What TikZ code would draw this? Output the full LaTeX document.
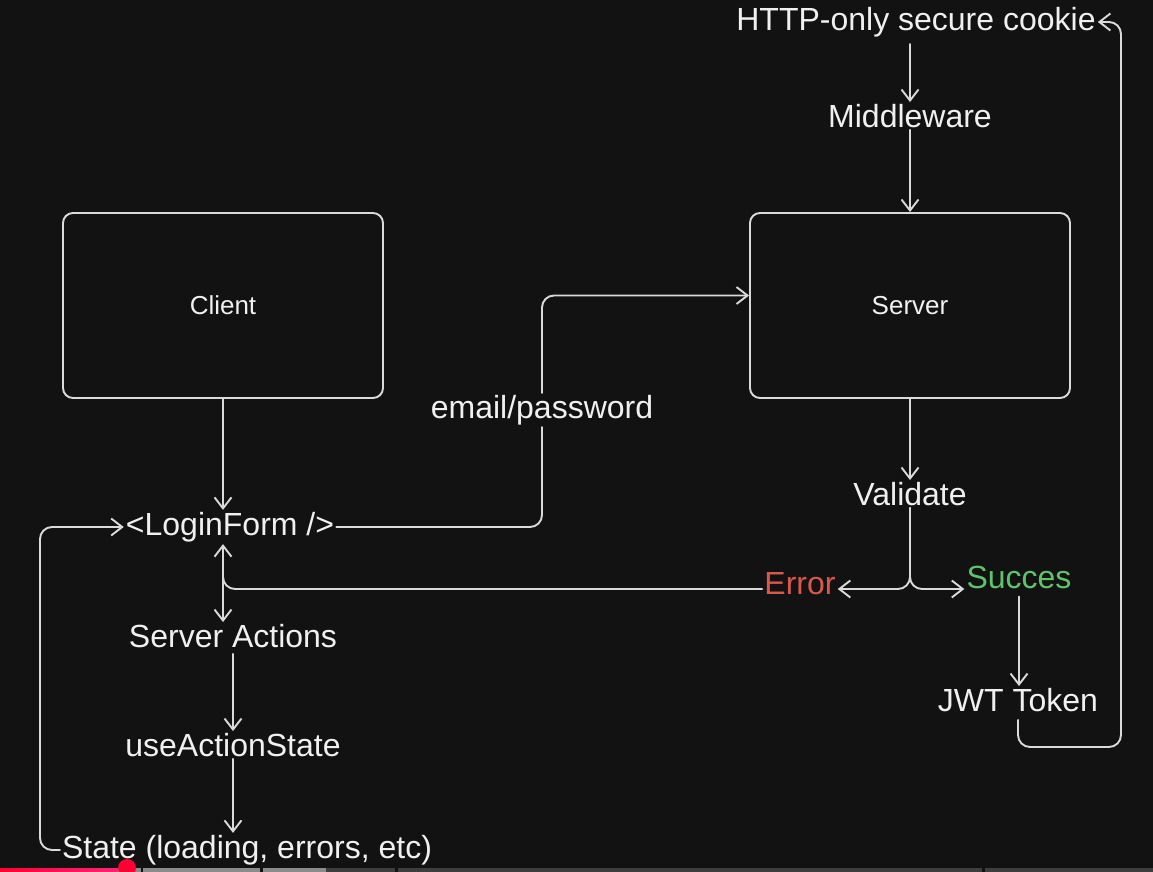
\documentclass[tikz,border=0pt]{standalone}
\usepackage{fontspec}
\setmainfont{Liberation Sans}
\usetikzlibrary{arrows.meta}
\definecolor{bg}{HTML}{121212}
\definecolor{ln}{HTML}{DADADA}
\definecolor{tx}{HTML}{F0F0F0}
\definecolor{err}{HTML}{D9574B}
\definecolor{ok}{HTML}{5DC46A}
\definecolor{barred}{HTML}{FF0033}
\definecolor{barpink}{HTML}{FF2277}
\definecolor{barlight}{HTML}{8C8C8C}
\definecolor{bardark}{HTML}{3E3E3E}
\begin{document}
\begin{tikzpicture}[x=1pt,y=-1pt,
  lbl/.style={text=tx, font=\fontsize{32}{37}\selectfont, inner sep=2pt},
  box/.style={draw=ln, line width=1.9pt, rounded corners=10pt, minimum width=320pt, minimum height=185pt, text=tx, font=\fontsize{26}{30}\selectfont},
  tipb/.tip={Straight Barb[length=11pt,width=17pt,line width=1.9pt]},
  wire/.style={draw=ln, line width=1.9pt, rounded corners=12pt, line cap=round},
  conn/.style={wire, -tipb},
]
\fill[bg] (0,0) rectangle (1153,872);
\useasboundingbox (0,0) rectangle (1153,872);

% nodes
\node[box] (client) at (223,305.5) {Client};
\node[box] (server) at (910,305.5) {Server};
\node[lbl] (cookie) at (916,22) {HTTP-only secure cookie};
\node[lbl] (mw) at (910,116) {Middleware};
\node[lbl] (validate) at (910,494) {Validate};
\node[lbl,text=err] (error) at (800,584) {Error};
\node[lbl,text=ok] (succ) at (1019,577) {Succes};
\node[lbl] (jwt) at (1018,700) {JWT Token};
\node[lbl] (login) at (230,527) {<LoginForm />};
\node[lbl] (sa) at (233,636) {Server Actions};
\node[lbl] (uas) at (233,745) {useActionState};
\node[lbl] (state) at (247,850) {State (loading, errors, etc)};
\node[lbl] (email) at (542,410) {email/password};

\coordinate (forky) at (0,589);
\coordinate (loopL) at (40,0);
\coordinate (loopR) at (1121,747);
\coordinate (lx) at (223,0);

% connectors
\draw[conn, shorten <=5pt] (mw.north |- cookie.south) -- (mw.north);
\draw[conn] (mw.south) -- (server.north);
\draw[conn] (server.south) -- (validate.north);
\draw[conn] (validate.south) |- (error.east |- forky);
\draw[conn] (validate.south) |- (succ.west |- forky);
\draw[wire] (error.west |- forky) -- (lx |- forky) -- ([yshift=16pt]lx |- forky);
\draw[wire, tipb-tipb] (lx |- login.south) -- (lx |- sa.north);
\draw[conn] (client.south) -- (client.south |- login.north);
\draw[wire] (login.east) -| (email.south);
\draw[conn] (email.north) |- ([yshift=10pt]server.west);
\draw[conn, shorten <=4pt] (sa.south) -- (uas.north);
\draw[conn] (uas.south) -- (uas.south |- state.north);
\draw[conn] (state.west) -| (loopL |- login.west) -- (login.west);
\draw[conn, shorten <=6pt] (succ.south) -- (succ.south |- jwt.north);
\draw[conn, shorten <=6pt] (jwt.south) |- (loopR) |- (cookie.east);

% video progress bar
\shade[left color=barred, right color=barpink] (0,868) rectangle (118,872);
\fill[barlight] (118,868) rectangle (141,872);
\fill[barlight] (143,868) rectangle (260,872);
\fill[barlight] (263,868) rectangle (326,872);
\fill[bardark] (326,868) rectangle (395,872);
\fill[bardark] (398,868) rectangle (982,872);
\fill[bardark] (985,868) rectangle (1153,872);
\fill[barred] (127,868) circle (9);
\end{tikzpicture}
\end{document}
